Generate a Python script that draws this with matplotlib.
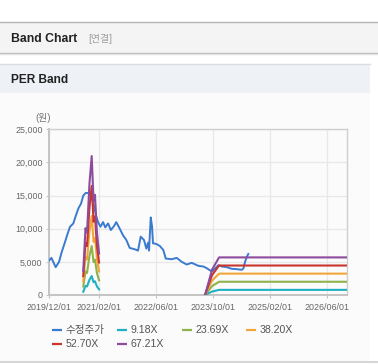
import matplotlib
matplotlib.use('Agg')
import matplotlib.pyplot as plt
import matplotlib.dates as mdates
from matplotlib.patches import Rectangle
from matplotlib.lines import Line2D
from matplotlib.ticker import FuncFormatter
import numpy as np
import pandas as pd

plt.rcParams['font.family'] = ['Liberation Sans', 'Noto Sans CJK KR']

W, H = 378, 364

# ---------------- data ----------------
price_dates = ['2019-12-01', '2019-12-22', '2020-01-27', '2020-02-25', '2020-03-19', '2020-04-16',
               '2020-05-09', '2020-05-29', '2020-06-26', '2020-07-16', '2020-08-08', '2020-08-31',
               '2020-09-19', '2020-10-10', '2020-11-01', '2020-12-03', '2021-01-06', '2021-01-23',
               '2021-02-13', '2021-03-07', '2021-03-26', '2021-04-19', '2021-05-12', '2021-06-09',
               '2021-06-28', '2021-07-28', '2021-08-25', '2021-09-22', '2021-10-21', '2021-12-03',
               '2021-12-31', '2022-01-23', '2022-02-20', '2022-03-12', '2022-03-27', '2022-04-04',
               '2022-04-19', '2022-04-30', '2022-05-08', '2022-06-06', '2022-07-05', '2022-08-04',
               '2022-08-25', '2022-10-15', '2022-11-27', '2023-01-09', '2023-02-20', '2023-04-04',
               '2023-05-31', '2023-07-12', '2023-08-10', '2023-09-22', '2023-10-06', '2023-11-18',
               '2023-12-17', '2024-01-29', '2024-03-11', '2024-04-23', '2024-06-05', '2024-06-19',
               '2024-07-03', '2024-07-18', '2024-07-31']
price_values = [5200, 5600, 4200, 5000, 6500, 8000,
                9300, 10300, 10800, 11900, 13050, 13800,
                15000, 15400, 15400, 14800, 12000, 11000,
                10300, 11000, 10200, 10800, 9800, 10400,
                11000, 10000, 9000, 8300, 7100, 6900,
                6700, 8800, 8300, 7000, 7900, 6700,
                11700, 10300, 7800, 7700, 7400, 6800,
                5500, 5400, 5600, 5000, 4600, 4850,
                4400, 4300, 4050, 3550, 3750, 4500,
                4300, 4200, 3950, 3900, 3800, 4000,
                5000, 5750, 6200]

band_dates = ['2020-09-19', '2020-10-08', '2020-10-21', '2020-11-11', '2020-11-30', '2020-12-16',
              '2020-12-28', '2021-01-14', '2021-02-01', '2022-06-01', '2023-07-27', '2023-09-25',
              '2023-11-24', '2026-11-19']
band_eps = [54, 150, 140, 250, 312, 210, 225, 140, 93, np.nan, 0, 57, 84.4, 84.4]
per_multiples = [9.18, 23.69, 38.20, 52.70, 67.21]

price_label = '수정주가'
band_labels = [f'{m:.2f}X' for m in per_multiples]

price_color = '#3a7bd0'
band_colors = ['#1fb1c2', '#8db24c', '#f2a63a', '#c9342e', '#8e4c9e']

x_ticks = ['2019-12-01', '2021-02-01', '2022-06-01', '2023-10-01', '2025-02-01', '2026-06-01']
x_end = '2026-11-19'
y_ticks = [0, 5000, 10000, 15000, 20000, 25000]

# ---------------- figure ----------------
fig = plt.figure(figsize=(W / 100, H / 100), dpi=100)
fig.patch.set_facecolor('white')


def fx(x):
    return x / W


def fy(y):
    return 1 - y / H


def rect(x0, y0, x1, y1, color):
    fig.add_artist(Rectangle((fx(x0), fy(y1)), (x1 - x0) / W, (y1 - y0) / H,
                             transform=fig.transFigure, facecolor=color,
                             edgecolor='none', zorder=-5))


def hline(x0, x1, y, color, lw=1.0):
    fig.add_artist(Line2D([fx(x0), fx(x1)], [fy(y), fy(y)], transform=fig.transFigure,
                          color=color, lw=lw, zorder=-4))


# header bar
rect(0, 22, W, 52.5, '#f4f4f4')
hline(0, W, 22.3, '#b4b4b4', 1.0)
hline(0, W, 52.6, '#b8b8b8', 1.0)
hline(0, W, 53.6, '#e2e2e2', 1.0)
fig.text(fx(11), fy(38.5), 'Band Chart', fontsize=8.8, fontweight='bold', color='#222222', va='center')
fig.text(fx(88), fy(38.5), '[연결]', fontsize=7.2, color='#a0a0a0', va='center')

# PER band section
rect(0, 64, 369.5, 92.5, '#eef2f7')
hline(0, 369.5, 64.3, '#dadde2', 1.0)
rect(0, 92.5, 369.5, 361, '#fbfbfb')
hline(0, W, 361.5, '#d6d6d6', 1.5)
fig.text(fx(11), fy(80), 'PER Band', fontsize=8.6, fontweight='bold', color='#222222', va='center')
fig.text(fx(43), fy(118.5), '(원)', fontsize=7, color='#777777', va='center', ha='center')

# axes
ax_l, ax_r, ax_t, ax_b = 49, 346.7, 129.3, 295
ax = fig.add_axes([fx(ax_l), fy(ax_b), (ax_r - ax_l) / W, (ax_b - ax_t) / H])
ax.set_facecolor('none')

pdates = pd.to_datetime(price_dates)
bdates = pd.to_datetime(band_dates)
eps = np.array(band_eps, dtype=float)

ax.plot(pdates, price_values, color=price_color, lw=1.4, zorder=3, solid_joinstyle='round')
for mult, col in zip(per_multiples, band_colors):
    ax.plot(bdates, eps * mult, color=col, lw=1.5, zorder=4, solid_joinstyle='round')

ax.set_xlim(pd.Timestamp(x_ticks[0]), pd.Timestamp(x_end))
ax.set_ylim(0, 25000)
ax.set_xticks(pd.to_datetime(x_ticks))
ax.xaxis.set_major_formatter(mdates.DateFormatter('%Y/%m/%d'))
ax.set_yticks(y_ticks)
ax.yaxis.set_major_formatter(FuncFormatter(lambda v, p: f'{int(v):,}'))

ax.grid(True, color='#e8e8e8', lw=0.9, zorder=0)
ax.set_axisbelow(True)
for side in ['top', 'right']:
    ax.spines[side].set_color('#cfcfcf')
    ax.spines[side].set_linewidth(1.0)
for side in ['left', 'bottom']:
    ax.spines[side].set_color('#c4c4c4')
    ax.spines[side].set_linewidth(1.4)

ax.tick_params(axis='both', colors='#c4c4c4', labelcolor='#666666', labelsize=6.4,
               length=2.2, width=0.8)
ax.tick_params(axis='x', pad=3.2)
ax.tick_params(axis='y', pad=2.4)

# legend (manual)
labels = [price_label] + band_labels
colors = [price_color] + band_colors
col_x = [51.7, 116.7, 181.7, 246.0]
row_y = [330.3, 343.6]
for i, (lab, col) in enumerate(zip(labels, colors)):
    r, c = divmod(i, 4)
    x0 = col_x[c]
    y0 = row_y[r]
    fig.add_artist(Line2D([fx(x0), fx(x0 + 10)], [fy(y0), fy(y0)], transform=fig.transFigure,
                          color=col, lw=1.6, solid_capstyle='butt'))
    fig.text(fx(x0 + 13.5), fy(y0), lab, fontsize=7.6, color='#555555', va='center', ha='left')

fig.savefig('out.png', dpi=100, facecolor=fig.get_facecolor())
